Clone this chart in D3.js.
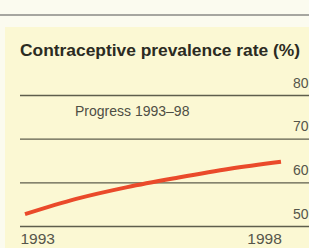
<!DOCTYPE html>
<html>
<head>
<meta charset="utf-8">
<script src="https://cdn.jsdelivr.net/npm/d3@7"></script>
<style>
  html, body { margin: 0; padding: 0; background: #fbfbef; }
  svg { display: block; }
</style>
</head>
<body>
<div id="chart"></div>
<script>
// contraceptive prevalence, 1993-98
var YEARS = [1993, 1994, 1995, 1996, 1997, 1998];
var RATE = [52.7, 56.2, 58.9, 61.1, 63.1, 64.7];
var Y_TICKS = [50, 60, 70, 80];
var X_LABELS = [1993, 1998];

function drawChart() {
    var width = 309, height = 248;
    var svg = d3.select("#chart").append("svg")
        .attr("width", width)
        .attr("height", height);

    // page background and top rule
    svg.append("rect").attr("width", width).attr("height", height).attr("fill", "#fbfbef");
    svg.append("line")
        .attr("x1", 0).attr("x2", width).attr("y1", 15).attr("y2", 15)
        .attr("stroke", "#8a8a86").attr("stroke-width", 1.5);

    // yellow panel
    svg.append("rect")
        .attr("x", 5).attr("y", 27)
        .attr("width", width - 5).attr("height", height - 27)
        .attr("fill", "#fbf8d3");

    svg.append("text")
        .attr("x", 20).attr("y", 56)
        .attr("font-family", "Liberation Sans, Arial, sans-serif")
        .attr("font-weight", "bold")
        .attr("font-size", 16)
        .attr("fill", "#2b2b22")
        .attr("textLength", 280)
        .attr("lengthAdjust", "spacingAndGlyphs")
        .text("Contraceptive prevalence rate (%)");

    var x = d3.scaleLinear().domain([1993, 1998]).range([25, 281]);
    var y = d3.scaleLinear().domain([50, 80]).range([226, 95]);

    // gridlines with labels on the right
    var grid = svg.append("g")
        .attr("transform", "translate(0,0)")
        .call(d3.axisRight(y).tickValues(Y_TICKS).tickSize(0).tickPadding(0));
    grid.select(".domain").remove();
    grid.selectAll(".tick line")
        .attr("x1", 20).attr("x2", width)
        .attr("stroke", "#5e5e4c").attr("stroke-width", 1.3);
    grid.selectAll(".tick text")
        .attr("x", 293).attr("dy", -8)
        .attr("text-anchor", "start")
        .attr("font-family", "Liberation Sans, Arial, sans-serif")
        .attr("font-size", 14)
        .attr("fill", "#55554a");

    svg.append("text")
        .attr("x", 75).attr("y", 116)
        .attr("font-family", "Liberation Sans, Arial, sans-serif")
        .attr("font-size", 14)
        .attr("fill", "#4e4e44")
        .text("Progress 1993\u201398");

    // x labels
    var xAxis = svg.append("g")
        .attr("transform", "translate(0,226)")
        .call(d3.axisBottom(x).tickValues(X_LABELS).tickFormat(d3.format("d")).tickSize(0).tickPadding(0));
    xAxis.select(".domain").remove();
    xAxis.selectAll(".tick text")
        .attr("dy", 0)
        .attr("y", 18)
        .attr("font-family", "Liberation Sans, Arial, sans-serif")
        .attr("font-size", 15.5)
        .attr("fill", "#55554a")
        .attr("text-anchor", function (d, i) { return i === 0 ? "start" : "middle"; })
        .attr("dx", function (d, i) { return i === 0 ? -5 : -17; });

    var line = d3.line()
        .x(function (d, i) { return x(YEARS[i]); })
        .y(function (d) { return y(d); })
        .curve(d3.curveMonotoneX);

    svg.append("path")
        .datum(RATE)
        .attr("d", line)
        .attr("fill", "none")
        .attr("stroke", "#ea4a2a")
        .attr("stroke-width", 4);
}

window.onload = drawChart;
</script>
</body>
</html>
